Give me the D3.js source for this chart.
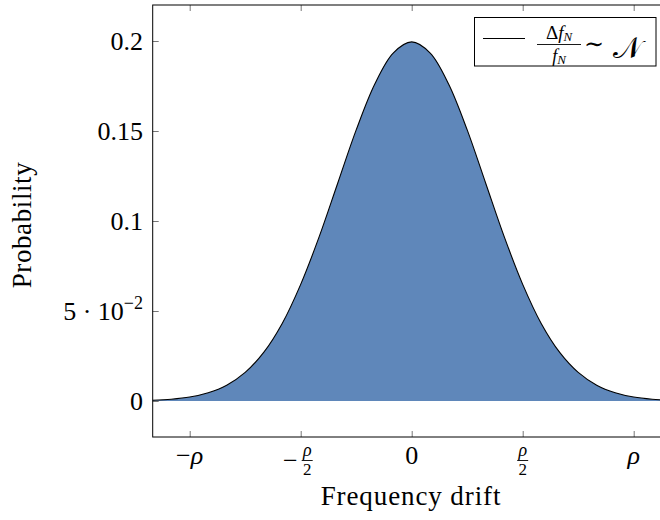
<!DOCTYPE html>
<html>
<head>
<meta charset="utf-8">
<script src="https://cdn.jsdelivr.net/npm/d3@7"></script>
<style>
  body { margin: 0; background: #fff; }
  .tick line { stroke: #777; }
  .domain { display: none; }
</style>
</head>
<body>
<div id="chart"></div>
<script>
// frequency drift (sigma units, rho = 6) and density
var drift = [-7, -6.5, -6, -5.5, -5, -4.5, -4, -3.5, -3, -2.5, -2, -1.5, -1, -0.5, 0,
             0.5, 1, 1.5, 2, 2.5, 3, 3.5, 4, 4.5, 5, 5.5, 6, 6.5, 7]
var density = [0.0004, 0.0010, 0.0022, 0.0046, 0.0088, 0.0159, 0.0270, 0.0431, 0.0648, 0.0913, 0.1210, 0.1506, 0.1760, 0.1933, 0.1995,
               0.1933, 0.1760, 0.1506, 0.1210, 0.0913, 0.0648, 0.0431, 0.0270, 0.0159, 0.0088, 0.0046, 0.0022, 0.0010, 0.0004]

var xTicks = [-6, -3, 0, 3, 6]
var xTickLabels = ["−ρ", "−ρ/2", "0", "ρ/2", "ρ"]
var yTicks = [0, 0.05, 0.1, 0.15, 0.2]
var yTickLabels = ["0", "5·10^−2", "0.1", "0.15", "0.2"]

var W = 660, H = 520
var FONT = "'Liberation Serif', 'Times New Roman', 'DejaVu Serif', serif"
var svg = d3.select("#chart").append("svg").attr("width", W).attr("height", H)
  .attr("font-family", FONT)

var x = d3.scaleLinear().domain([-7, 7]).range([152.7, 670.7])
var y = d3.scaleLinear().domain([-0.02, 0.22]).range([437, 5])

var data = drift.map(function (d, i) { return { x: d, y: density[i] } })

// filled area under the density
var area = d3.area().x(function (d) { return x(d.x) }).y0(y(0)).y1(function (d) { return y(d.y) })
  .curve(d3.curveCatmullRom)
var line = d3.line().x(function (d) { return x(d.x) }).y(function (d) { return y(d.y) })
  .curve(d3.curveCatmullRom)

svg.append("path").datum(data).attr("d", area).attr("fill", "#5f87ba")
svg.append("path").datum(data).attr("d", line).attr("fill", "none").attr("stroke", "#000").attr("stroke-width", 1.1)

// ticks (inward on all sides)
svg.append("g").attr("transform", "translate(0," + y.range()[0] + ")")
  .call(d3.axisBottom(x).tickValues(xTicks).tickSize(-6).tickFormat(""))
svg.append("g").attr("transform", "translate(0," + y.range()[1] + ")")
  .call(d3.axisTop(x).tickValues(xTicks).tickSize(-6).tickFormat(""))
svg.append("g").attr("transform", "translate(" + x.range()[0] + ",0)")
  .call(d3.axisLeft(y).tickValues(yTicks).tickSize(-6).tickFormat(""))
svg.append("g").attr("transform", "translate(" + x.range()[1] + ",0)")
  .call(d3.axisRight(y).tickValues(yTicks).tickSize(-6).tickFormat(""))

// frame
svg.append("rect").attr("x", x.range()[0]).attr("y", y.range()[1])
  .attr("width", x.range()[1] - x.range()[0]).attr("height", y.range()[0] - y.range()[1])
  .attr("fill", "none").attr("stroke", "#000").attr("stroke-width", 1)

// x tick labels
xTicks.forEach(function (v, i) {
  var lab = xTickLabels[i], cx = x(v)
  var g = svg.append("g").attr("font-size", 26)
  if (lab.indexOf("/") >= 0) {
    var neg = lab[0] == "−"
    var parts = lab.replace("−", "").split("/")
    var fx = neg ? cx + 6.5 : cx
    if (neg) g.append("text").attr("x", cx - 3).attr("y", 469).attr("text-anchor", "end").text("−")
    g.append("text").attr("x", fx).attr("y", 456).attr("text-anchor", "middle")
      .attr("font-size", 18).attr("font-style", "italic").text(parts[0])
    g.append("line").attr("x1", fx - 5.5).attr("x2", fx + 5.5).attr("y1", 460.5).attr("y2", 460.5)
      .attr("stroke", "#000").attr("stroke-width", 0.9)
    g.append("text").attr("x", fx).attr("y", 475).attr("text-anchor", "middle")
      .attr("font-size", 17).text(parts[1])
  } else {
    var t = g.append("text").attr("x", cx).attr("y", 464).attr("text-anchor", "middle")
    if (lab[0] == "−") {
      t.append("tspan").text("−")
      t.append("tspan").attr("font-style", "italic").text(lab.slice(1))
    } else if (lab == "ρ") {
      t.attr("font-style", "italic").text(lab)
    } else t.text(lab)
  }
})

// y tick labels
yTicks.forEach(function (v, i) {
  var lab = yTickLabels[i]
  var t = svg.append("text").attr("x", 143).attr("y", y(v) + 9).attr("text-anchor", "end").attr("font-size", 26)
  if (lab.indexOf("^") >= 0) {
    var p = lab.split("^")
    t.append("tspan").text(p[0].replace("·", " · "))
    t.append("tspan").attr("font-size", 18).attr("dy", -11).text(p[1])
  } else t.text(lab)
})

// axis titles
svg.append("text").attr("x", 411).attr("y", 505).attr("text-anchor", "middle").attr("font-size", 27)
  .attr("letter-spacing", 0.9).text("Frequency drift")
svg.append("text").attr("transform", "translate(31,225) rotate(-90)").attr("text-anchor", "middle")
  .attr("font-size", 27).attr("letter-spacing", 0.6).text("Probability")

// legend
var lg = svg.append("g")
lg.append("rect").attr("x", 474.5).attr("y", 17.5).attr("width", 181.5).attr("height", 48.5)
  .attr("fill", "#fff").attr("stroke", "#000").attr("stroke-width", 1)
lg.append("line").attr("x1", 483).attr("x2", 525).attr("y1", 38.5).attr("y2", 38.5).attr("stroke", "#000").attr("stroke-width", 1.1)
var num = lg.append("text").attr("x", 559).attr("y", 39).attr("text-anchor", "middle").attr("font-size", 19)
num.append("tspan").text("Δ")
num.append("tspan").attr("font-style", "italic").text("f")
num.append("tspan").attr("font-style", "italic").attr("font-size", 13).attr("dy", 2).text("N")
lg.append("line").attr("x1", 537).attr("x2", 581).attr("y1", 44.5).attr("y2", 44.5).attr("stroke", "#000").attr("stroke-width", 0.9)
var den = lg.append("text").attr("x", 559).attr("y", 62).attr("text-anchor", "middle").attr("font-size", 18)
den.append("tspan").attr("font-style", "italic").text("f")
den.append("tspan").attr("font-style", "italic").attr("font-size", 13).attr("dy", 2).text("N")
lg.append("text").attr("x", 594).attr("y", 52).attr("text-anchor", "middle").attr("font-size", 24)
  .attr("font-family", "'DejaVu Serif', serif").text("∼")
lg.append("text").attr("x", 627).attr("y", 58).attr("text-anchor", "middle").attr("font-size", 30)
  .text("𝒩")
</script>
</body>
</html>
